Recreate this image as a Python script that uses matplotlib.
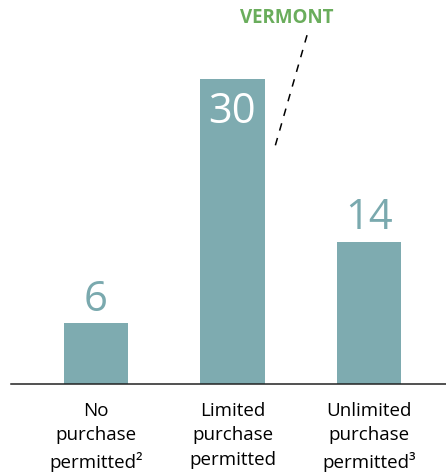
import matplotlib.pyplot as plt

categories = ["No\npurchase\npermitted²", "Limited\npurchase\npermitted", "Unlimited\npurchase\npermitted³"]
values = [6, 30, 14]
highlight = "VERMONT"

bar_color = "#7eabb0"
label_color = "#7aa9ae"
green = "#6aad5c"

plt.rcParams['font.family'] = ['Open Sans', 'DejaVu Sans']

fig = plt.figure(figsize=(4.46, 4.73), dpi=100)
ax = fig.add_axes([0, 89/473, 1, 384/473])

x = range(len(values))
ax.bar(x, values, width=0.47, color=bar_color)

ax.set_xlim(-0.703, 2.564)
ax.set_ylim(0, 37.76)

# value labels: above bar, except the tall one goes inside in white
for i, v in enumerate(values):
    if v == max(values):
        ax.text(i, v - 3.3, str(v), ha='center', va='center', color='white', fontsize=30)
    else:
        ax.text(i, v + 2.3, str(v), ha='center', va='center', color=label_color, fontsize=30)

# baseline
ax.plot([-0.623, 2.564], [0, 0], color='#222222', lw=1.1, clip_on=False)

# Vermont callout
ax.text(1.4, 36.0, highlight, ha='center', va='center', color=green, fontsize=13.5, fontweight='bold')
ax.plot([1.546, 1.304], [34.3, 23.0], color='black', lw=1.1, ls=(0, (5, 5)))

ax.set_xticks(list(x))
ax.set_xticklabels(categories, fontsize=13.5, linespacing=1.45)
ax.tick_params(axis='x', length=0, pad=13)
ax.set_yticks([])
for s in ax.spines.values():
    s.set_visible(False)

fig.savefig("out.png", dpi=100)
